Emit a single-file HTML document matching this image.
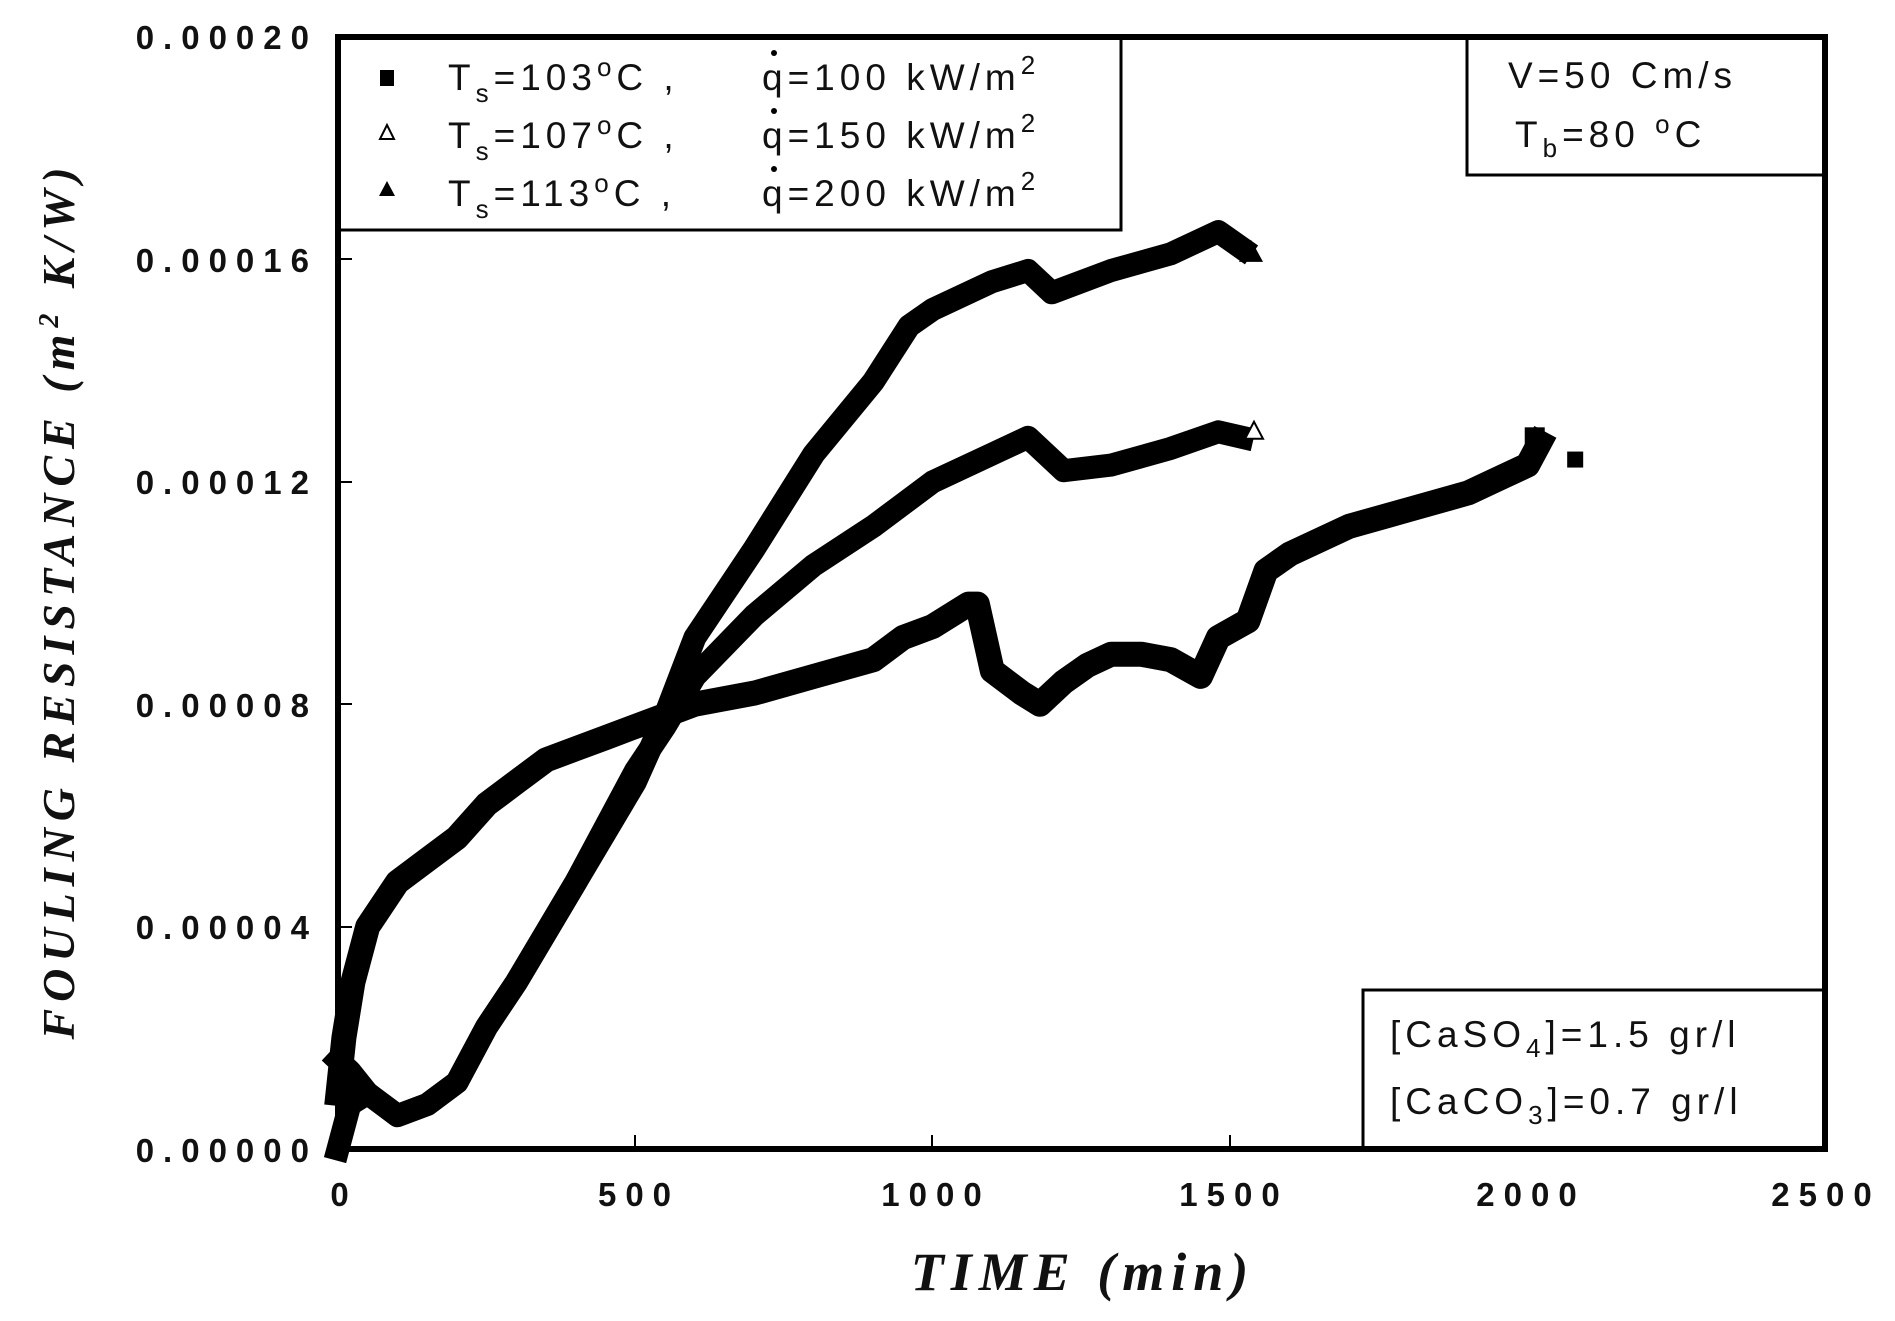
<!DOCTYPE html>
<html><head><meta charset="utf-8">
<style>
html,body{margin:0;padding:0;background:#fff;}
svg{display:block;}
text{font-family:"Liberation Sans",sans-serif;fill:#111;}
.t{font-size:37px;letter-spacing:5px;}
.tk{font-size:33px;letter-spacing:9px;font-weight:bold;}
</style></head><body>
<svg id="s" width="1895" height="1321" viewBox="0 0 1895 1321" xmlns="http://www.w3.org/2000/svg">
<rect width="1895" height="1321" fill="#fff"/>
<g id="curves"></g>
<g stroke="#000" stroke-width="2">
<line x1="635" y1="1149" x2="635" y2="1135"/><line x1="932" y1="1149" x2="932" y2="1135"/>
<line x1="1230" y1="1149" x2="1230" y2="1135"/><line x1="1527" y1="1149" x2="1527" y2="1135"/>
<line x1="338" y1="927" x2="352" y2="927"/><line x1="338" y1="704" x2="352" y2="704"/>
<line x1="338" y1="482" x2="352" y2="482"/><line x1="338" y1="259" x2="352" y2="259"/>
</g>
<g text-anchor="end">
<text x="318" y="49" class="tk">0.00020</text>
<text x="318" y="272" class="tk">0.00016</text>
<text x="318" y="494" class="tk">0.00012</text>
<text x="318" y="717" class="tk">0.00008</text>
<text x="318" y="939" class="tk">0.00004</text>
<text x="318" y="1162" class="tk">0.00000</text>
</g>
<g text-anchor="middle">
<text x="344" y="1206" class="tk">0</text>
<text x="639" y="1206" class="tk">500</text>
<text x="936" y="1206" class="tk">1000</text>
<text x="1234" y="1206" class="tk">1500</text>
<text x="1531" y="1206" class="tk">2000</text>
<text x="1826" y="1206" class="tk">2500</text>
</g>
<text x="1083" y="1290" text-anchor="middle" style="font-family:'Liberation Serif',serif;font-style:italic;font-weight:bold;font-size:54px;letter-spacing:7px">TIME (min)</text>
<text transform="translate(74,600) rotate(-90)" text-anchor="middle" style="font-family:'Liberation Serif',serif;font-style:italic;font-weight:bold;font-size:46px;letter-spacing:7px">FOULING RESISTANCE (m<tspan dy="-16" font-size="28">2</tspan><tspan dy="16"> K/W)</tspan></text>
<!-- legend -->
<rect x="338" y="37" width="783" height="193" fill="#fff" stroke="#000" stroke-width="3"/>
<rect x="380" y="70" width="14" height="16" fill="#000"/>
<polygon points="387,125 380,139 394,139" fill="#fff" stroke="#000" stroke-width="2"/>
<polygon points="387,181 379,196 395,196" fill="#000"/>
<text x="448" y="90" class="t">T<tspan font-size="26" dy="12">s</tspan><tspan dy="-12">=103</tspan><tspan font-size="26" dy="-14">o</tspan><tspan dy="14">C ,</tspan></text>
<text x="448" y="148" class="t">T<tspan font-size="26" dy="12">s</tspan><tspan dy="-12">=107</tspan><tspan font-size="26" dy="-14">o</tspan><tspan dy="14">C ,</tspan></text>
<text x="448" y="206" class="t">T<tspan font-size="26" dy="12">s</tspan><tspan dy="-12">=113</tspan><tspan font-size="26" dy="-14">o</tspan><tspan dy="14">C ,</tspan></text>
<text x="762" y="90" class="t">q=100 kW/m<tspan font-size="26" dy="-16">2</tspan></text>
<text x="762" y="148" class="t">q=150 kW/m<tspan font-size="26" dy="-16">2</tspan></text>
<text x="762" y="206" class="t">q=200 kW/m<tspan font-size="26" dy="-16">2</tspan></text>
<circle cx="774" cy="53" r="3" fill="#000"/><circle cx="774" cy="111" r="3" fill="#000"/><circle cx="774" cy="169" r="3" fill="#000"/>
<rect x="1467" y="37" width="358" height="138" fill="#fff" stroke="#000" stroke-width="3"/>
<text x="1508" y="88" class="t">V=50 Cm/s</text>
<text x="1515" y="147" class="t">T<tspan font-size="26" dy="10">b</tspan><tspan dy="-10">=80 </tspan><tspan font-size="26" dy="-14">o</tspan><tspan dy="14">C</tspan></text>
<rect x="1363" y="990" width="462" height="159" fill="#fff" stroke="#000" stroke-width="3"/>
<text x="1390" y="1047" class="t">[CaSO<tspan font-size="26" dy="10">4</tspan><tspan dy="-10">]=1.5 gr/l</tspan></text>
<text x="1390" y="1114" class="t">[CaCO<tspan font-size="26" dy="10">3</tspan><tspan dy="-10">]=0.7 gr/l</tspan></text>
<rect x="338" y="37" width="1487" height="1112" fill="none" stroke="#000" stroke-width="6"/>
</svg>
<script>
(function(){
var X=function(t){return 338+t*0.5948;},Y=function(r){return 1149-r*55.6;};
var s1=[[0,1],[10,2],[25,3],[50,4],[100,4.8],[150,5.2],[200,5.6],[250,6.2],[300,6.6],[350,7],[400,7.2],[450,7.4],[500,7.6],[600,8.0],[700,8.2],[800,8.5],[900,8.8],[950,9.2],[1000,9.4],[1060,9.8],[1075,9.8],[1100,8.6],[1150,8.2],[1180,8.0],[1220,8.4],[1260,8.7],[1300,8.9],[1350,8.9],[1400,8.8],[1450,8.5],[1480,9.2],[1530,9.5],[1560,10.4],[1600,10.7],[1700,11.2],[1800,11.5],[1900,11.8],[1960,12.1],[2000,12.3],[2020,12.7]];
var s2=[[0,1.6],[20,1.4],[50,1.0],[100,0.6],[150,0.8],[200,1.2],[250,2.2],[300,3],[400,4.8],[500,6.8],[550,7.6],[600,8.5],[700,9.6],[800,10.5],[900,11.2],[1000,12],[1100,12.5],[1160,12.8],[1220,12.2],[1300,12.3],[1400,12.6],[1480,12.9],[1520,12.8]];
var s3=[[0,0],[20,0.8],[50,1.0],[100,0.6],[150,0.8],[200,1.2],[250,2.2],[300,3],[400,4.8],[500,6.6],[550,7.8],[600,9.2],[700,10.8],[800,12.5],[900,13.8],[960,14.8],[1000,15.1],[1100,15.6],[1160,15.8],[1200,15.4],[1300,15.8],[1400,16.1],[1480,16.5],[1520,16.2]];
var g=document.getElementById('curves'),ns='http://www.w3.org/2000/svg';
function pl(d,w){var p=document.createElementNS(ns,'polyline');p.setAttribute('points',d.map(function(a){return X(a[0]).toFixed(1)+','+Y(a[1]).toFixed(1)}).join(' '));p.setAttribute('fill','none');p.setAttribute('stroke','#000');p.setAttribute('stroke-width',w);p.setAttribute('stroke-linejoin','round');p.setAttribute('stroke-linecap','square');g.appendChild(p);}
pl(s1,25);pl(s2,23);pl(s3,23);
function el(tag,attrs){var e=document.createElementNS(ns,tag);for(var k in attrs)e.setAttribute(k,attrs[k]);g.appendChild(e);}
el('rect',{x:X(2080)-8,y:Y(12.4)-8,width:16,height:16,fill:'#000'});
el('polygon',{points:[X(1540),Y(12.9)-10,X(1540)-9,Y(12.9)+7,X(1540)+9,Y(12.9)+7].join(' '),fill:'#fff',stroke:'#000','stroke-width':2});
el('polygon',{points:[X(1535),Y(16.1)-14,X(1535)-12,Y(16.1)+8,X(1535)+12,Y(16.1)+8].join(' '),fill:'#000'});
el('rect',{x:X(2012)-10,y:Y(12.8)-10,width:20,height:20,fill:'#000'});
})();
</script>
</body></html>
